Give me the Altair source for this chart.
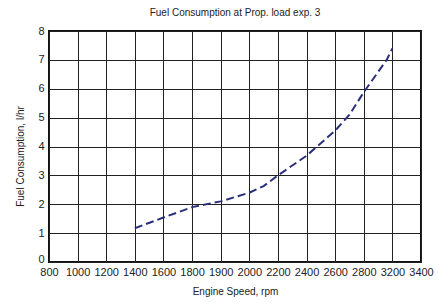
import altair as alt
import pandas as pd

# x tick labels (evenly spaced positions on the chart)
x_labels = ["800", "1000", "1200", "1400", "1600", "1800", "1900", "2000",
            "2200", "2400", "2600", "2800", "3200", "3400"]
# line points: position along the evenly-spaced axis, and fuel consumption (l/hr)
pos = [3, 4, 5, 6, 7, 7.5, 8, 9, 10, 10.5, 11, 11.8, 12]
fuel = [1.17, 1.54, 1.9, 2.1, 2.4, 2.63, 3.0, 3.68, 4.55, 5.1, 5.88, 7.0, 7.4]

df = pd.DataFrame({"pos": pos, "fuel": fuel})

font = "Liberation Sans"
label_expr = "[" + ",".join(f"'{l}'" for l in x_labels) + "][round(datum.value)]"

chart = alt.Chart(df).mark_line(
    color="#2b2f7a", strokeWidth=2, strokeDash=[8, 4]
).encode(
    x=alt.X("pos:Q",
            scale=alt.Scale(domain=[0, 13], nice=False, zero=False),
            axis=alt.Axis(values=list(range(14)), labelExpr=label_expr,
                          title="Engine Speed, rpm", grid=True, ticks=False,
                          labelOverlap=False, labelFlush=False,
                          labelPadding=4, titlePadding=9, domain=False)),
    y=alt.Y("fuel:Q",
            scale=alt.Scale(domain=[0, 8], nice=False),
            axis=alt.Axis(values=list(range(9)), title="Fuel Consumption, l/hr",
                          grid=True, ticks=False, labelPadding=5,
                          labelOverlap=False, labelFlush=False,
                          labelBaseline=alt.expr("datum.value == 0 ? 'alphabetic' : 'middle'"),
                          titlePadding=12, domain=False, titleY=125)),
).properties(
    width=372, height=231,
    title=alt.TitleParams("Fuel Consumption at Prop. load exp. 3",
                          font=font, fontSize=10, fontWeight="normal",
                          color="#222", offset=7),
    autosize=alt.AutoSizeParams(type="none"),
    padding={"left": 41, "top": 23, "right": 19, "bottom": 36},
).configure_axis(
    labelFont=font, labelFontSize=11, labelColor="#222",
    titleFont=font, titleFontSize=10, titleFontWeight="normal", titleColor="#222",
    gridColor="#222", gridWidth=1, gridOpacity=1,
).configure_view(
    stroke="#111", strokeWidth=2,
)

chart.save("out.html", embed_options={"renderer": "svg", "actions": False})
